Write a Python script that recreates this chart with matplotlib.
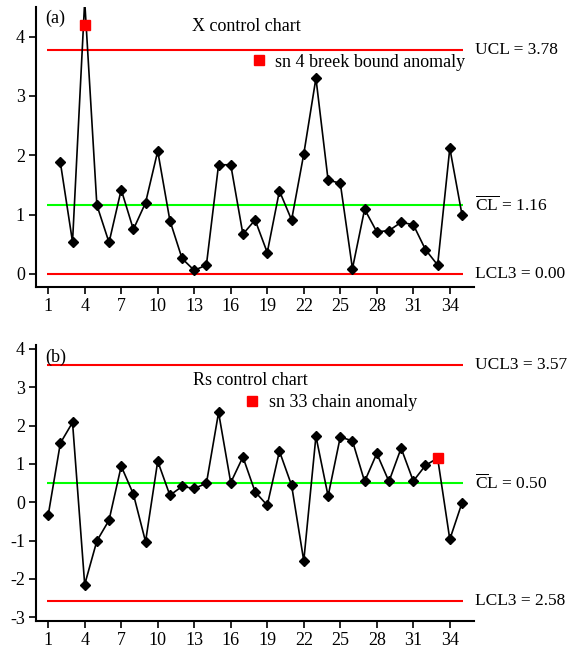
import matplotlib
matplotlib.use("Agg")
import matplotlib.pyplot as plt

plt.rcParams["font.family"] = ["Liberation Serif", "DejaVu Serif"]
plt.rcParams["mathtext.fontset"] = "custom"
plt.rcParams["mathtext.rm"] = "Liberation Serif"
plt.rcParams["axes.unicode_minus"] = False

# X chart (a)
x_sn = list(range(2, 36))
x_vals = [1.88, 0.54, 4.60, 1.16, 0.53, 1.42, 0.75, 1.20, 2.07, 0.90,
          0.26, 0.06, 0.15, 1.84, 1.84, 0.67, 0.91, 0.36, 1.40, 0.91,
          2.02, 3.30, 1.58, 1.53, 0.09, 1.09, 0.71, 0.73, 0.87, 0.83,
          0.41, 0.15, 2.12, 1.00]
x_anom_sn = [4]
x_anom_val = [4.20]
x_ucl, x_cl, x_lcl = 3.78, 1.16, 0.00

# Rs chart (b)
rs_sn = list(range(1, 36))
rs_vals = [-0.34, 1.54, 2.08, -2.15, -1.01, -0.47, 0.94, 0.21, -1.03, 1.07,
           0.18, 0.41, 0.36, 0.49, 2.34, 0.51, 1.18, 0.27, -0.08, 1.33,
           0.44, -1.53, 1.72, 0.16, 1.70, 1.60, 0.54, 1.27, 0.54, 1.41,
           0.55, 0.96, 1.15, -0.97, -0.02]
rs_anom_sn = [33]
rs_anom_val = [1.15]
rs_ucl, rs_cl, rs_lcl = 3.57, 0.50, -2.58

xticks = list(range(1, 36, 3))

fig = plt.figure(figsize=(5.69, 6.5), dpi=100)
ax1 = fig.add_axes([0.0633, 0.5585, 0.770, 0.4308])
ax2 = fig.add_axes([0.0633, 0.0446, 0.770, 0.4246])


def style(ax):
    for s in ["top", "right"]:
        ax.spines[s].set_visible(False)
    for s in ["left", "bottom"]:
        ax.spines[s].set_linewidth(1.5)
    ax.tick_params(direction="out", length=5, width=1.2, labelsize=13, pad=3)
    ax.set_xlim(0, 36)
    ax.set_xticks(xticks)


def limits(ax, ucl, cl, lcl, ucl_txt, cl_txt, lcl_txt):
    for v in (ucl, lcl):
        ax.hlines(v, 0.9, 35.1, colors="#ff0000", lw=1.5, zorder=1)
    ax.hlines(cl, 0.9, 35.1, colors="#00ff00", lw=1.5, zorder=1)
    for v, t in ((ucl, ucl_txt), (cl, cl_txt), (lcl, lcl_txt)):
        ax.text(1.003, v, t, transform=ax.get_yaxis_transform(),
                fontsize=12.5, va="center", ha="left", clip_on=False)


# (a)
style(ax1)
ax1.set_ylim(-0.22, 4.5)
ax1.set_yticks([0, 1, 2, 3, 4])
limits(ax1, x_ucl, x_cl, x_lcl, "UCL = 3.78",
       r"$\overline{\mathrm{C}}\overline{\mathrm{L}}$ = 1.16", "LCL3 = 0.00")
ax1.plot(x_sn, x_vals, color="black", lw=1.2, marker="D", ms=5.5, zorder=3)
ax1.plot(x_anom_sn, x_anom_val, ls="none", marker="s", ms=7,
         color="#ff0000", label="sn 4 breek bound anomaly", zorder=4)
ax1.text(0.02, 0.99, "(a)", transform=ax1.transAxes, fontsize=13, va="top")
ax1.text(0.48, 0.93, "X control chart", transform=ax1.transAxes,
         fontsize=13, ha="center", va="center")
ax1.legend(loc="upper right", bbox_to_anchor=(1.0, 0.865), frameon=False,
           fontsize=13, handlelength=0.8, handletextpad=0.5,
           borderaxespad=0.1)

# (b)
style(ax2)
ax2.set_ylim(-3.1, 4.1)
ax2.set_yticks([-3, -2, -1, 0, 1, 2, 3, 4])
limits(ax2, rs_ucl, rs_cl, rs_lcl, "UCL3 = 3.57",
       r"$\overline{\mathrm{C}}$L = 0.50", "LCL3 = 2.58")
ax2.plot(rs_sn, rs_vals, color="black", lw=1.2, marker="D", ms=5.5, zorder=3)
ax2.plot(rs_anom_sn, rs_anom_val, ls="none", marker="s", ms=7,
         color="#ff0000", label="sn 33 chain anomaly", zorder=4)
ax2.text(0.02, 0.985, "(b)", transform=ax2.transAxes, fontsize=13, va="top")
ax2.text(0.49, 0.87, "Rs control chart", transform=ax2.transAxes,
         fontsize=13, ha="center", va="center")
ax2.legend(loc="upper right", bbox_to_anchor=(0.89, 0.855), frameon=False,
           fontsize=13, handlelength=0.8, handletextpad=0.5,
           borderaxespad=0.1)

fig.savefig("out.png", dpi=100)
